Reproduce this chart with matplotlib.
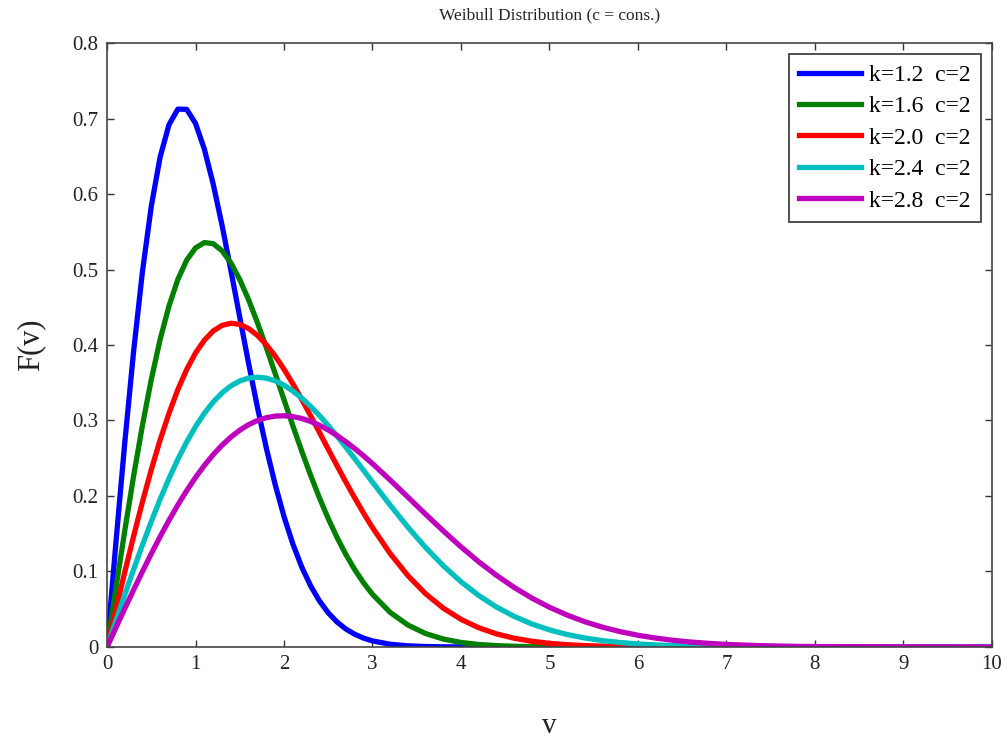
import matplotlib
matplotlib.use("Agg")
import matplotlib.pyplot as plt

plt.rcParams['font.family'] = ['Liberation Serif', 'DejaVu Serif']

v = [0.0, 0.1, 0.2, 0.3, 0.4, 0.5, 0.6, 0.7, 0.8, 0.9, 1.0,
     1.1, 1.2, 1.3, 1.4, 1.5, 1.6, 1.7, 1.8, 1.9, 2.0,
     2.1, 2.2, 2.3, 2.4, 2.5, 2.6, 2.7, 2.8, 2.9, 3.0,
     3.2, 3.4, 3.6, 3.8, 4.0, 4.2, 4.4, 4.6, 4.8, 5.0,
     5.2, 5.4, 5.6, 5.8, 6.0, 6.2, 6.4, 6.6, 6.8, 7.0,
     7.2, 7.4, 7.6, 7.8, 8.0, 9.0, 10.0]

f_k12 = [0.0, 0.1379, 0.2702, 0.3914, 0.4971, 0.5838, 0.6490, 0.6918, 0.7124, 0.7122, 0.6935,
         0.6594, 0.6131, 0.5584, 0.4985, 0.4367, 0.3756, 0.3173, 0.2635, 0.2152, 0.1727,
         0.1364, 0.1060, 0.0811, 0.0611, 0.0452, 0.0330, 0.0237, 0.0168, 0.0117, 0.0080,
         0.0036, 0.0015, 0.0006, 0.0002, 0.0001, 0.0, 0.0, 0.0, 0.0, 0.0,
         0.0, 0.0, 0.0, 0.0, 0.0, 0.0, 0.0, 0.0, 0.0, 0.0,
         0.0, 0.0, 0.0, 0.0, 0.0, 0.0, 0.0]

f_k16 = [0.0, 0.0778, 0.1538, 0.2263, 0.2936, 0.3543, 0.4073, 0.4516, 0.4868, 0.5124, 0.5286,
         0.5357, 0.5342, 0.5248, 0.5086, 0.4866, 0.4599, 0.4295, 0.3966, 0.3623, 0.3275,
         0.2930, 0.2595, 0.2276, 0.1976, 0.1700, 0.1449, 0.1223, 0.1023, 0.0848, 0.0697,
         0.0458, 0.0291, 0.0178, 0.0105, 0.0060, 0.0033, 0.0018, 0.0009, 0.0005, 0.0002,
         0.0001, 0.0, 0.0, 0.0, 0.0, 0.0, 0.0, 0.0, 0.0, 0.0,
         0.0, 0.0, 0.0, 0.0, 0.0, 0.0, 0.0]

f_k20 = [0.0, 0.0499, 0.0990, 0.1467, 0.1922, 0.2349, 0.2742, 0.3096, 0.3409, 0.3675, 0.3894,
         0.4064, 0.4186, 0.4260, 0.4288, 0.4273, 0.4218, 0.4127, 0.4004, 0.3853, 0.3679,
         0.3486, 0.3280, 0.3064, 0.2843, 0.2620, 0.2399, 0.2182, 0.1972, 0.1771, 0.1581,
         0.1237, 0.0945, 0.0705, 0.0514, 0.0366, 0.0255, 0.0174, 0.0116, 0.0076, 0.0048,
         0.0030, 0.0018, 0.0011, 0.0006, 0.0004, 0.0002, 0.0001, 0.0, 0.0, 0.0,
         0.0, 0.0, 0.0, 0.0, 0.0, 0.0, 0.0]

f_k24 = [0.0, 0.0347, 0.0690, 0.1026, 0.1351, 0.1662, 0.1957, 0.2232, 0.2486, 0.2715, 0.2919,
         0.3096, 0.3245, 0.3366, 0.3459, 0.3524, 0.3562, 0.3574, 0.3561, 0.3525, 0.3468,
         0.3391, 0.3297, 0.3188, 0.3066, 0.2933, 0.2792, 0.2644, 0.2493, 0.2338, 0.2183,
         0.1878, 0.1587, 0.1318, 0.1076, 0.0864, 0.0682, 0.0530, 0.0406, 0.0305, 0.0226,
         0.0165, 0.0119, 0.0084, 0.0059, 0.0040, 0.0027, 0.0018, 0.0012, 0.0008, 0.0005,
         0.0003, 0.0002, 0.0001, 0.0001, 0.0, 0.0, 0.0]

f_k28 = [0.0, 0.0255, 0.0508, 0.0757, 0.1000, 0.1235, 0.1462, 0.1678, 0.1881, 0.2071, 0.2246,
         0.2405, 0.2548, 0.2673, 0.2781, 0.2872, 0.2945, 0.3000, 0.3037, 0.3058, 0.3063,
         0.3052, 0.3027, 0.2988, 0.2937, 0.2874, 0.2800, 0.2718, 0.2628, 0.2531, 0.2428,
         0.2211, 0.1985, 0.1758, 0.1537, 0.1326, 0.1129, 0.0950, 0.0789, 0.0648, 0.0526,
         0.0422, 0.0334, 0.0262, 0.0203, 0.0155, 0.0118, 0.0088, 0.0065, 0.0048, 0.0034,
         0.0025, 0.0017, 0.0012, 0.0008, 0.0006, 0.0001, 0.0]

series = [f_k12, f_k16, f_k20, f_k24, f_k28]
labels = ["k=1.2  c=2", "k=1.6  c=2", "k=2.0  c=2", "k=2.4  c=2", "k=2.8  c=2"]
colors = ["#0000ff", "#008000", "#ff0000", "#00bfbf", "#bf00bf"]

xticks = [0, 1, 2, 3, 4, 5, 6, 7, 8, 9, 10]
yticks = [0, 0.1, 0.2, 0.3, 0.4, 0.5, 0.6, 0.7, 0.8]
yticklabels = ["0", "0.1", "0.2", "0.3", "0.4", "0.5", "0.6", "0.7", "0.8"]

fig = plt.figure(figsize=(10.07, 7.47), dpi=100)
ax = fig.add_axes([0.1063, 0.1339, 0.8787, 0.8085])

for y, lab, col in zip(series, labels, colors):
    ax.plot(v, y, color=col, linewidth=3.8, label=lab, solid_joinstyle='round')

ax.set_xlim(0, 10)
ax.set_ylim(0, 0.8)
ax.set_xticks(xticks)
ax.set_xticklabels([str(t) for t in xticks])
ax.set_yticks(yticks)
ax.set_yticklabels(yticklabels)
ax.tick_params(direction='in', top=True, right=True, length=5, width=1,
               labelsize=15, colors='#333333', labelcolor='#222222', pad=6)
for s in ax.spines.values():
    s.set_color('#444444')
    s.set_linewidth(1.2)

ax.set_title("Weibull Distribution (c = cons.)", fontsize=12.5, pad=17, color='#222222')
ax.set_xlabel("v", fontsize=21, labelpad=28, color='#222222')
ax.set_ylabel("F(v)", fontsize=22, labelpad=20, color='#222222')

leg = ax.legend(loc='upper right', fontsize=17, handlelength=2.6, handletextpad=0.35,
                labelspacing=0.42, borderpad=0.45, fancybox=False, framealpha=1,
                borderaxespad=0.45)
leg.get_frame().set_edgecolor('#333333')
leg.get_frame().set_linewidth(1.2)

fig.savefig("out.png", dpi=100)
